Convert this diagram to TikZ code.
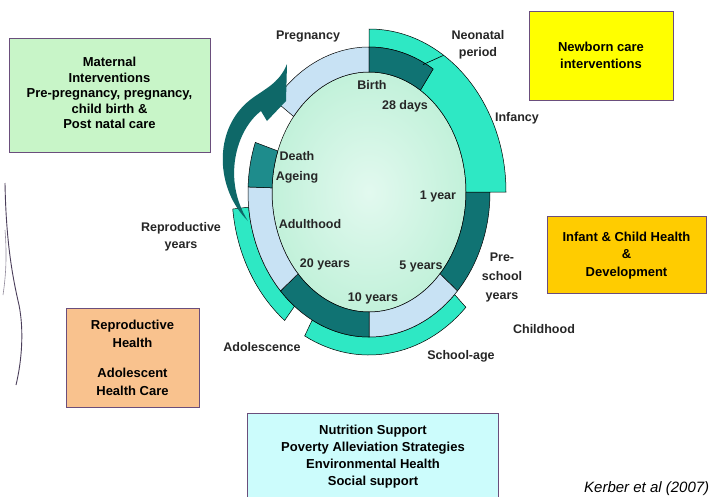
\documentclass[tikz,border=0pt]{standalone}
\usepackage{fontspec}
\setmainfont{Liberation Sans}
\usetikzlibrary{calc}
\definecolor{aqua}{HTML}{2EE8C4}
\definecolor{dteal}{HTML}{107373}
\definecolor{mteal}{HTML}{1E8C8C}
\definecolor{lblue}{HTML}{C8E2F4}
\definecolor{arrowc}{HTML}{0E6868}
\definecolor{mintin}{HTML}{E2F9EF}
\definecolor{mintout}{HTML}{C2F1DA}
\definecolor{boxgreen}{HTML}{C8F5C8}
\definecolor{boxyellow}{HTML}{FFFF00}
\definecolor{boxgold}{HTML}{FFCC00}
\definecolor{boxpeach}{HTML}{F9C28E}
\definecolor{boxcyan}{HTML}{CCFCFC}
\definecolor{boxline}{HTML}{6A4E7C}
\definecolor{labelc}{HTML}{262626}
\definecolor{curvec}{HTML}{4A3E5A}
% ring segment: fill, start, end, inner rx, inner ry, outer rx, outer ry
\newcommand{\ringseg}[7]{%
  \filldraw[fill=#1,draw=black,line width=0.5pt]
    ($(C)+(#2:#4pt and #5pt)$) arc[start angle=#2,end angle=#3,x radius=#4pt,y radius=#5pt]
    -- ($(C)+(#3:#6pt and #7pt)$) arc[start angle=#3,end angle=#2,x radius=#6pt,y radius=#7pt]
    -- cycle;}
\begin{document}
\begin{tikzpicture}[x=1pt,y=1pt,
  lbl/.style={font=\fontsize{12.5}{15}\selectfont\bfseries, text=labelc, anchor=base, inner sep=0pt},
  boxtxt/.style={font=\fontsize{13}{#1}\selectfont\bfseries, align=center, inner sep=0pt},
  ibox/.style={draw=boxline, line width=0.6pt, inner sep=0pt}]
\useasboundingbox (0,0) rectangle (713,-496);
\fill[white] (0,0) rectangle (713,-496);
\coordinate (C) at (369,-192);

% inner disk
\shade[inner color=mintin, outer color=mintout] (C) ellipse[x radius=97pt, y radius=120pt];
\draw[black, line width=0.5pt] (C) ellipse[x radius=97pt, y radius=120pt];

% outer band pieces
\ringseg{aqua}{-118}{-45}{121}{145}{137}{163}
\ringseg{aqua}{186}{232}{121}{145}{137}{163}

% middle ring
\ringseg{dteal}{-43}{0}{97}{120}{121}{145}
\ringseg{lblue}{-90}{-43}{97}{120}{121}{145}
\ringseg{dteal}{-137}{-90}{97}{120}{121}{145}
\ringseg{lblue}{178}{223}{97}{120}{121}{145}
\ringseg{mteal}{160}{178}{97}{120}{121}{145}
\ringseg{lblue}{90}{141}{97}{120}{121}{145}

% infancy (union of outer band and middle ring)
\filldraw[fill=aqua, draw=black, line width=0.5pt]
  ($(C)+(90:137pt and 163pt)$) arc[start angle=90,end angle=0,x radius=137pt,y radius=163pt]
  -- ($(C)+(0:97pt and 120pt)$) arc[start angle=0,end angle=58,x radius=97pt,y radius=120pt]
  -- ($(C)+(58:121pt and 145pt)$) arc[start angle=58,end angle=90,x radius=121pt,y radius=145pt]
  -- cycle;
\ringseg{dteal}{58}{90}{97}{120}{121}{145}
\coordinate (neoA) at ($(C)+(63:119pt and 143pt)$);
\coordinate (neoB) at ($(C)+(57:137pt and 163pt)$);
\draw[black, line width=0.6pt] (neoA) -- (neoB);

% big cycle arrow
\fill[arrowc] (248,-221) .. controls (216,-190) and (212,-130) .. (250,-100)
  .. controls (264,-89) and (279,-84) .. (287,-64)
  -- (286,-101) -- (267,-121) -- (261,-111)
  .. controls (236,-130) and (222,-180) .. (248,-221) -- cycle;

% ring labels
\node[lbl] (lpreg) at (308,-39.5) {Pregnancy};
\node[lbl] (lneo1) at (478,-39.5) {Neonatal};
\node[lbl] (lneo2) at (478,-56.5) {period};
\node[lbl] (linf) at (517,-121.5) {Infancy};
\node[lbl] (lbirth) at (372,-89.5) {Birth};
\node[lbl] (l28) at (405,-109.5) {28 days};
\node[lbl] (ldeath) at (297,-160.5) {Death};
\node[lbl] (lage) at (297,-180.5) {Ageing};
\node[lbl] (l1y) at (438,-199.5) {1 year};
\node[lbl] (ladult) at (310,-228.5) {Adulthood};
\node[lbl] (l20) at (325,-267.5) {20 years};
\node[lbl] (l5) at (421,-269.5) {5 years};
\node[lbl] (l10) at (373,-301.5) {10 years};
\node[lbl] (lpre1) at (502,-261.5) {Pre-};
\node[lbl] (lpre2) at (502,-280.5) {school};
\node[lbl] (lpre3) at (502,-299.5) {years};
\node[lbl] (lchild) at (544,-333.5) {Childhood};
\node[lbl] (lschool) at (461,-359.5) {School-age};
\node[lbl] (ladol) at (262,-351.5) {Adolescence};
\node[lbl] (lrep1) at (181,-231.5) {Reproductive};
\node[lbl] (lrep2) at (181,-248.5) {years};

% intervention boxes
\node[ibox, fill=boxgreen, minimum width=201pt, minimum height=114pt] (maternal) at (109.5,-95) {};
\node[boxtxt=15.5] (maternalT) at (109.5,-93) {Maternal\\Interventions\\Pre-pregnancy, pregnancy,\\child birth \&\\Post natal care};

\node[ibox, fill=boxyellow, minimum width=144pt, minimum height=89pt] (newborn) at (601,-55.5) {};
\node[boxtxt=17] (newbornT) at (601,-55.5) {Newborn care\\interventions};

\node[ibox, fill=boxgold, minimum width=159pt, minimum height=77pt] (infant) at (626.5,-254.5) {};
\node[boxtxt=17.5] (infantT) at (626.5,-255.5) {Infant \& Child Health\\\&\\Development};

\node[ibox, fill=boxpeach, minimum width=133pt, minimum height=99pt] (repro) at (132.5,-357.5) {};
\node[boxtxt=18] (reproT) at (132.5,-358) {Reproductive\\Health\\[12pt]Adolescent\\Health Care};

\node[ibox, fill=boxcyan, minimum width=251pt, minimum height=90pt, anchor=north west] (nutri) at (247,-413) {};
\node[boxtxt=17] (nutriT) at (373,-457) {Nutrition Support\\Poverty Alleviation Strategies\\Environmental Health\\Social support};

% citation
\node[font=\fontsize{15}{18}\selectfont\itshape, anchor=base west, inner sep=0pt] (cite) at (584,-492.5) {Kerber et al (2007)};

% curves at left edge
\draw[curvec, line width=0.9pt] (5,-183) .. controls (6,-240) and (12,-275) .. (19,-305)
  .. controls (24,-330) and (22,-360) .. (16,-385);
\draw[curvec!60, line width=0.6pt] (5,-230) .. controls (7,-255) and (6,-275) .. (3,-295);
\end{tikzpicture}
\end{document}
